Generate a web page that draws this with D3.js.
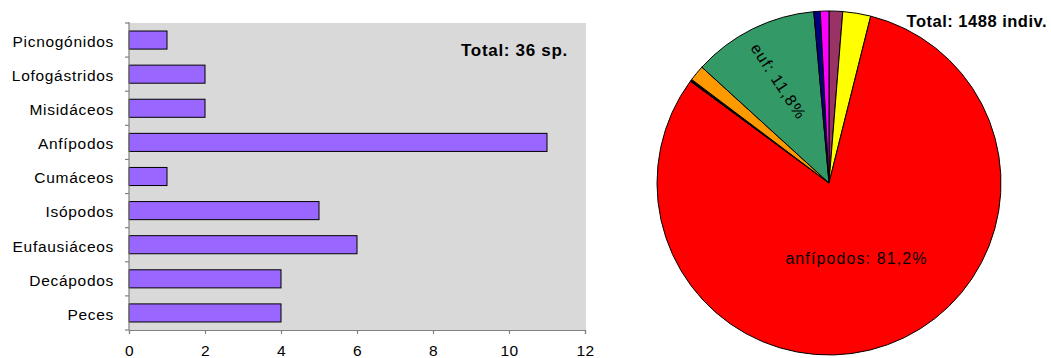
<!DOCTYPE html>
<html><head><meta charset="utf-8">
<script src="https://cdn.jsdelivr.net/npm/d3@7"></script>
<style>
body{margin:0;background:#fff;}
svg{display:block;font-family:"Liberation Sans",Arial,sans-serif;}
</style></head>
<body><svg id="c" width="1051" height="358"></svg>
<script>
// ---- bar chart data ----
const barCategories = ["Picnogónidos","Lofogástridos","Misidáceos","Anfípodos","Cumáceos","Isópodos","Eufausiáceos","Decápodos","Peces"];
const barValues = [1,2,2,11,1,5,6,4,4];
const xTicks = [0,2,4,6,8,10,12];
const barTotalLabel = "Total: 36 sp.";

// ---- pie data (clockwise from 12 o'clock) ----
const pieCategories = ["Lofogástridos","Misidáceos","Anfípodos","Cumáceos","Isópodos","Eufausiáceos","Decápodos","Peces"];
const pieValues = [19,39,1208,3,22,176,9,12];
const pieColors = ["#993366","#FFFF00","#FF0000","#000000","#FF9900","#339966","#000080","#FF00FF"];
const pieLabels = {"Anfípodos":"anfípodos: 81,2%","Eufausiáceos":"euf: 11,8%"};
const pieTotalLabel = "Total: 1488 indiv.";

const svg = d3.select("#c");

// ================= BAR CHART =================
const pl = 129, pr = 585, pt = 23, pb = 330;
const x = d3.scaleLinear().domain([0,12]).range([pl,pr]);
const y = d3.scaleBand().domain(barCategories).range([pt,pb]).paddingInner(0.47).paddingOuter(0.235);

svg.append("rect").attr("x",pl).attr("y",pt).attr("width",pr-pl+1).attr("height",pb-pt).attr("fill","#D9D9D9");

svg.append("g").selectAll("rect").data(barValues).join("rect")
  .attr("x",x(0)).attr("y",(d,i)=>y(barCategories[i]))
  .attr("width",d=>x(d)-x(0)).attr("height",y.bandwidth())
  .attr("fill","#9966FF").attr("stroke","#000").attr("stroke-width",1);

// category axis
const step = y.step();
const ga = svg.append("g").attr("stroke","#808080").attr("stroke-width",1.2);
ga.append("line").attr("x1",pl).attr("x2",pl).attr("y1",pt-1).attr("y2",pb);
d3.range(barCategories.length+1).forEach(i=>{
  const yy = pt + i*step;
  ga.append("line").attr("x1",pl-4).attr("x2",pl).attr("y1",yy).attr("y2",yy);
});
svg.append("g").selectAll("text").data(barCategories).join("text")
  .attr("x",114).attr("y",d=>y(d)+y.bandwidth()/2+6.8)
  .attr("text-anchor","end").attr("font-size",15.5).attr("letter-spacing",0.7)
  .attr("fill","#000").text(d=>d);

// value axis
const xa = svg.append("g").attr("transform",`translate(0,${pb})`)
  .call(d3.axisBottom(x).tickValues(xTicks).tickSize(4).tickFormat(d3.format("d")));
xa.select(".domain").attr("stroke","#808080").attr("stroke-width",1.2);
xa.selectAll(".tick line").attr("stroke","#808080").attr("stroke-width",1.2);
xa.selectAll(".tick text").attr("font-size",15.5).attr("font-family","Liberation Sans, Arial, sans-serif")
  .attr("fill","#000").attr("y",26).attr("dy",null).attr("letter-spacing",0.3);

svg.append("text").attr("x",568).attr("y",56).attr("text-anchor","end")
  .attr("font-size",17).attr("font-weight","bold").attr("letter-spacing",0.7).text(barTotalLabel);

// ================= PIE CHART =================
const cx = 829, cy = 183, R = 172;
const pie = d3.pie().sort(null).value(d=>d)(pieValues);
const arc = d3.arc().innerRadius(0).outerRadius(R);
const gp = svg.append("g").attr("transform",`translate(${cx},${cy})`);
gp.selectAll("path").data(pie).join("path")
  .attr("d",arc).attr("fill",(d,i)=>pieColors[i])
  .attr("stroke","#000").attr("stroke-width",1).attr("stroke-linejoin","round");

pie.forEach((d,i)=>{
  const lab = pieLabels[pieCategories[i]];
  if(!lab) return;
  const mid = (d.startAngle+d.endAngle)/2;
  if(pieCategories[i]==="Anfípodos"){
    const r = 0.47*R;
    gp.append("text").attr("x",Math.sin(mid)*r).attr("y",-Math.cos(mid)*r+5)
      .attr("text-anchor","middle").attr("font-size",16).attr("letter-spacing",1.1).text(lab);
  } else {
    const r = 0.66*R;
    const px = Math.sin(mid)*r, py = -Math.cos(mid)*r;
    const rot = mid*180/Math.PI - 277;
    gp.append("text").attr("transform",`translate(${px},${py}) rotate(${rot})`)
      .attr("text-anchor","middle").attr("dy","0.35em").attr("font-size",16).attr("letter-spacing",1.2).text(lab);
  }
});

svg.append("text").attr("x",1047).attr("y",27).attr("text-anchor","end")
  .attr("font-size",16.5).attr("font-weight","bold").attr("letter-spacing",0.5).text(pieTotalLabel);
</script></body></html>
